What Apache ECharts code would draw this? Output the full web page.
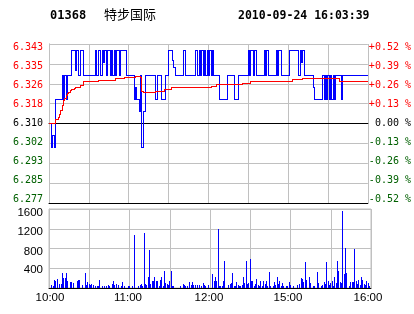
<!DOCTYPE html>
<html><head><meta charset="utf-8">
<script src="https://cdn.jsdelivr.net/npm/echarts@6/dist/echarts.min.js"></script>
<style>html,body{margin:0;padding:0;background:#fff}#c{width:414px;height:314px}</style>
</head><body><div id="c"></div>
<script>
const stockCode = '01368';
const stockName = '特步国际';
const stamp = '2010-09-24 16:03:39';
const prevClose = 6.31;
const timeLabels = ['10:00', '11:00', '12:00', '15:00', '16:00'];
const priceLabels = ['6.277', '6.285', '6.293', '6.302', '6.310', '6.318', '6.326', '6.335', '6.343'];
const pctLabels = ['-0.52 %', '-0.39 %', '-0.26 %', '-0.13 %', ' 0.00 %', '+0.13 %', '+0.26 %', '+0.39 %', '+0.52 %'];
const volLabels = ['', '400', '800', '1200', '1600'];

// price per minute (0 = 10:00 ... 240 = 16:00)
const price = [
 6.31, 6.31, 6.30, 6.305, 6.30, 6.32, 6.32, 6.32, 6.32, 6.32,
 6.33, 6.32, 6.33, 6.32, 6.33, 6.33, 6.33, 6.34, 6.34, 6.34,
 6.332, 6.34, 6.33, 6.33, 6.34, 6.34, 6.33, 6.33, 6.33, 6.33,
 6.33, 6.33, 6.33, 6.33, 6.33, 6.34, 6.33, 6.34, 6.34, 6.33,
 6.34, 6.335, 6.34, 6.33, 6.34, 6.34, 6.33, 6.34, 6.33, 6.34,
 6.33, 6.34, 6.34, 6.33, 6.34, 6.34, 6.34, 6.34, 6.33, 6.33,
 6.33, 6.33, 6.33, 6.33, 6.32, 6.325, 6.32, 6.32, 6.315, 6.33,
 6.30, 6.315, 6.315, 6.33, 6.33, 6.33, 6.33, 6.33, 6.33, 6.33,
 6.32, 6.32, 6.33, 6.33, 6.33, 6.32, 6.32, 6.32, 6.33, 6.33,
 6.34, 6.34, 6.34, 6.336, 6.333, 6.33, 6.33, 6.33, 6.33, 6.33,
 6.33, 6.34, 6.34, 6.33, 6.33, 6.33, 6.33, 6.33, 6.33, 6.33,
 6.34, 6.34, 6.33, 6.34, 6.33, 6.34, 6.33, 6.34, 6.33, 6.34,
 6.33, 6.34, 6.33, 6.34, 6.33, 6.33, 6.33, 6.33, 6.32, 6.32,
 6.32, 6.32, 6.32, 6.32, 6.33, 6.33, 6.33, 6.33, 6.33, 6.33,
 6.32, 6.32, 6.32, 6.33, 6.33, 6.33, 6.33, 6.33, 6.33, 6.33,
 6.34, 6.33, 6.34, 6.34, 6.33, 6.34, 6.33, 6.33, 6.33, 6.33,
 6.33, 6.33, 6.34, 6.33, 6.34, 6.33, 6.33, 6.33, 6.33, 6.33,
 6.33, 6.34, 6.33, 6.34, 6.34, 6.33, 6.33, 6.33, 6.33, 6.33,
 6.33, 6.34, 6.34, 6.34, 6.34, 6.34, 6.34, 6.34, 6.33, 6.34,
 6.335, 6.34, 6.33, 6.33, 6.33, 6.33, 6.33, 6.33, 6.33, 6.325,
 6.32, 6.32, 6.32, 6.32, 6.32, 6.32, 6.33, 6.32, 6.33, 6.32,
 6.33, 6.32, 6.33, 6.32, 6.33, 6.32, 6.33, 6.33, 6.33, 6.33,
 6.32, 6.33, 6.33, 6.33, 6.33, 6.33, 6.33, 6.33, 6.33, 6.33,
 6.33, 6.33, 6.33, 6.33, 6.33, 6.33, 6.33, 6.33, 6.33, 6.33, 6.33
];

// average price per minute
const avgPrice = [
 6.31, 6.31, 6.31, 6.3098, 6.3098, 6.3118, 6.3118, 6.3125, 6.3139, 6.3155,
 6.3173, 6.3194, 6.3205, 6.3214, 6.3222, 6.3228, 6.3235, 6.324, 6.3242, 6.3245,
 6.3249, 6.3249, 6.3249, 6.3249, 6.3256, 6.3256, 6.3273, 6.3273, 6.3273, 6.3273,
 6.3273, 6.3273, 6.3273, 6.3273, 6.3273, 6.3273, 6.3273, 6.3277, 6.3277, 6.3277,
 6.3277, 6.3277, 6.3277, 6.3277, 6.3277, 6.3277, 6.3277, 6.3277, 6.3277, 6.3277,
 6.3287, 6.3287, 6.3287, 6.3287, 6.3287, 6.3287, 6.3287, 6.3291, 6.3291, 6.3291,
 6.3291, 6.3291, 6.3291, 6.3291, 6.3291, 6.3295, 6.3295, 6.3295, 6.3295, 6.3291,
 6.3233, 6.3229, 6.3229, 6.3229, 6.3229, 6.3229, 6.3229, 6.3229, 6.3229, 6.3229,
 6.3233, 6.3233, 6.3233, 6.3233, 6.3233, 6.3233, 6.3233, 6.324, 6.324, 6.324,
 6.324, 6.324, 6.3247, 6.3247, 6.3247, 6.3247, 6.3247, 6.3247, 6.3247, 6.3247,
 6.3247, 6.3247, 6.3247, 6.3247, 6.3247, 6.3247, 6.3247, 6.3247, 6.3247, 6.3247,
 6.3247, 6.3247, 6.3247, 6.3247, 6.3247, 6.3247, 6.3247, 6.3247, 6.3247, 6.3247,
 6.3247, 6.3247, 6.3254, 6.3254, 6.3254, 6.3254, 6.3259, 6.3259, 6.3259, 6.3259,
 6.3259, 6.3259, 6.3259, 6.3259, 6.3259, 6.3259, 6.3259, 6.3259, 6.3259, 6.3259,
 6.3259, 6.3259, 6.3259, 6.3259, 6.3259, 6.3259, 6.3266, 6.3266, 6.3266, 6.3266,
 6.3266, 6.3266, 6.3273, 6.3273, 6.3273, 6.3273, 6.3273, 6.3273, 6.3273, 6.3273,
 6.3273, 6.3273, 6.3273, 6.3273, 6.3273, 6.3273, 6.3273, 6.3273, 6.3273, 6.3273,
 6.3273, 6.3273, 6.3273, 6.3273, 6.3273, 6.3273, 6.3273, 6.3273, 6.3273, 6.3273,
 6.3273, 6.3273, 6.3273, 6.328, 6.328, 6.328, 6.328, 6.328, 6.328, 6.328,
 6.328, 6.3284, 6.3284, 6.3284, 6.3284, 6.3284, 6.3284, 6.3284, 6.3284, 6.3284,
 6.3284, 6.3284, 6.3284, 6.3284, 6.3284, 6.3284, 6.3284, 6.3284, 6.3284, 6.3284,
 6.3284, 6.3284, 6.3284, 6.3284, 6.3284, 6.3284, 6.3284, 6.3284, 6.3284, 6.3273,
 6.3273, 6.3273, 6.3273, 6.3273, 6.3273, 6.3273, 6.3273, 6.3273, 6.3273, 6.3273,
 6.3273, 6.3273, 6.3273, 6.3273, 6.3273, 6.3273, 6.3273, 6.3273, 6.3273, 6.3273, 6.3273
];

// volume per minute
const volume = [
 0, 0, 67, 47, 169, 135, 189, 0, 88, 88,
 310, 209, 209, 310, 135, 0, 128, 128, 108, 0,
 0, 148, 155, 169, 0, 67, 0, 310, 67, 128,
 88, 54, 81, 54, 0, 40, 40, 40, 155, 0,
 40, 40, 0, 47, 67, 40, 0, 81, 148, 67,
 88, 0, 61, 0, 40, 128, 47, 0, 0, 47,
 47, 0, 47, 0, 1080, 0, 0, 47, 67, 88,
 47, 1120, 88, 54, 229, 776, 88, 148, 148, 229,
 135, 135, 47, 169, 229, 47, 337, 101, 88, 67,
 148, 337, 47, 47, 0, 0, 0, 0, 47, 0,
 88, 54, 47, 47, 0, 128, 67, 115, 67, 54,
 0, 54, 54, 0, 47, 101, 54, 47, 0, 67,
 0, 0, 290, 135, 229, 148, 1200, 47, 47, 47,
 148, 540, 0, 0, 67, 88, 108, 310, 47, 47,
 128, 67, 47, 47, 67, 229, 108, 553, 88, 108,
 594, 148, 135, 47, 88, 189, 67, 47, 135, 47,
 148, 88, 148, 47, 330, 47, 0, 47, 128, 67,
 229, 88, 135, 47, 108, 47, 0, 47, 47, 128,
 67, 0, 47, 0, 0, 67, 0, 88, 209, 189,
 128, 520, 169, 0, 229, 108, 0, 47, 47, 0,
 330, 108, 0, 47, 67, 128, 88, 533, 148, 67,
 108, 135, 47, 229, 108, 553, 351, 128, 108, 1566,
 290, 810, 297, 0, 47, 128, 128, 128, 797, 135,
 88, 169, 67, 229, 169, 88, 67, 148, 108, 47, 148
];

const GRAY = '#c0c0c0';
const RED = '#ff0000';
const GREEN = '#006000';
const BLUE = '#0000ff';
const toBp = p => (p / prevClose - 1) * 10000;
const priceData = price.map((p, i) => [i, toBp(p)]);
const avgData = avgPrice.map((p, i) => [i, toBp(p)]);
const volData = volume.map((v, i) => [i, v]);
const sideColor = i => i > 4 ? RED : (i < 4 ? GREEN : '#000');
const monoFont = 'DejaVu Sans Mono';
const sansFont = 'Liberation Sans';

// rich styles nudging the side labels (the original packs them slightly inward)
const sideRich = {};
for (let i = 0; i < 9; i++) {
  const d = 3.7 - 0.875 * (8 - i); // + = down ; index 8 is the top label
  sideRich['p' + i] = {color: sideColor(i), fontFamily: monoFont, fontSize: 10,
    padding: d >= 0 ? [2 * d, 0, 0, 0] : [0, 0, -2 * d, 0]};
}
const volShift = [0, 1.8, 3, 3.5, 4.3];
const volRich = {};
volShift.forEach((d, i) => { volRich['v' + i] = {color: '#000', fontFamily: sansFont, fontSize: 11.5, padding: [2 * d, 0, 0, 0]}; });
const timeShift = [-1, 1.5, 1, 2.5, 3]; // + = left
const timeRich = {};
timeShift.forEach((d, i) => { timeRich['t' + i] = {color: '#000', fontFamily: sansFont, fontSize: 11.5,
  padding: d >= 0 ? [0, 2 * d, 0, 0] : [0, 0, 0, -2 * d]}; });

const snap = v => Math.round(v - 0.5) + 0.5;
function stepRender(color) {
  return function (params, api) {
    const i = params.dataIndexInside;
    if (i >= params.dataInsideLength - 1) return null;
    const p0 = api.coord([api.value(0, i), api.value(1, i)]);
    const p1 = api.coord([api.value(0, i + 1), api.value(1, i + 1)]);
    const x0 = snap(p0[0]), x1 = snap(p1[0]), y0 = snap(p0[1]), y1 = snap(p1[1]);
    const st = {stroke: color, lineWidth: 1, fill: null};
    const kids = [{type: 'line', shape: {x1: x0 - 0.5, y1: y0, x2: x1 + 0.5, y2: y0}, style: st}];
    if (y1 !== y0) kids.push({type: 'line', shape: {x1: x1, y1: y0, x2: x1, y2: y1}, style: st});
    return {type: 'group', children: kids};
  };
}
function barRender(params, api) {
  const v = api.value(1);
  if (!v) return null;
  const top = api.coord([api.value(0), v]);
  const base = api.coord([api.value(0), 0]);
  const x = Math.floor(top[0]);
  const y0 = Math.round(top[1]), y1 = Math.round(base[1]);
  return {type: 'rect', shape: {x: x, y: y0, width: 1, height: y1 - y0}, style: {fill: BLUE}};
}

const chart = echarts.init(document.getElementById('c'), null, {renderer: 'canvas'});
chart.setOption({
  animation: false,
  backgroundColor: '#fff',
  graphic: [
    {type: 'text', left: 50, top: 10, style: {text: stockCode, font: 'bold 12px "DejaVu Sans Mono"', fill: '#000'}},
    {type: 'text', left: 104, top: 8, style: {text: stockName, font: '13px "Noto Sans CJK SC"', fill: '#000'}},
    {type: 'text', left: 238, top: 10, style: {text: stamp, font: 'bold 11.5px "DejaVu Sans Mono"', fill: '#000'}}
  ],
  grid: [
    {left: 49, top: 44, width: 322, height: 159, show: false},
    {left: 49, top: 209, width: 322, height: 79, show: true, borderColor: GRAY, borderWidth: 1, backgroundColor: 'transparent'}
  ],
  xAxis: [
    {type: 'value', gridIndex: 0, min: 0, max: 240, interval: 30, position: 'bottom',
     axisLine: {show: true, onZero: false, lineStyle: {color: '#000', width: 1}},
     axisTick: {show: false}, axisLabel: {show: false},
     splitLine: {show: true, lineStyle: {color: GRAY, width: 1}}},
    {type: 'value', gridIndex: 1, min: 0, max: 240, interval: 30,
     axisLine: {show: true, onZero: false, lineStyle: {color: '#000', width: 1}},
     axisTick: {show: false},
     axisLabel: {show: true, margin: 4, color: '#000', fontFamily: sansFont, fontSize: 11.5,
       showMinLabel: true, showMaxLabel: true, hideOverlap: false, rich: timeRich,
       formatter: v => (v % 60 === 0 ? '{t' + (v / 60) + '|' + timeLabels[v / 60] + '}' : '')},
     splitLine: {show: true, lineStyle: {color: GRAY, width: 1}}},
    {type: 'value', gridIndex: 0, min: 0, max: 240, interval: 30, position: 'bottom',
     axisLine: {show: true, onZero: true, onZeroAxisIndex: 0, lineStyle: {color: '#000', width: 1}},
     axisTick: {show: false}, axisLabel: {show: false}, splitLine: {show: false}}
  ],
  yAxis: [
    {type: 'value', gridIndex: 0, position: 'left', min: -52, max: 52, interval: 13,
     axisLine: {show: true, lineStyle: {color: GRAY}}, axisTick: {show: false},
     splitLine: {show: true, lineStyle: {color: GRAY, width: 1}},
     axisLabel: {margin: 6, fontFamily: monoFont, fontSize: 10, rich: sideRich,
       formatter: v => { const i = Math.round(v / 13) + 4; return '{p' + i + '|' + priceLabels[i] + '}'; }}},
    {type: 'value', gridIndex: 0, position: 'right', min: -52, max: 52, interval: 13,
     axisLine: {show: true, lineStyle: {color: GRAY}}, axisTick: {show: false},
     splitLine: {show: false},
     axisLabel: {margin: 1, fontFamily: monoFont, fontSize: 10, rich: sideRich,
       formatter: v => { const i = Math.round(v / 13) + 4; return '{p' + i + '|' + pctLabels[i] + '}'; }}},
    {type: 'value', gridIndex: 1, position: 'left', min: 0, max: 1600, interval: 400,
     axisLine: {show: true, lineStyle: {color: GRAY}}, axisTick: {show: false},
     splitLine: {show: true, lineStyle: {color: GRAY, width: 1}},
     axisLabel: {margin: 6, color: '#000', fontFamily: sansFont, fontSize: 11.5, rich: volRich,
       formatter: v => { const i = Math.round(v / 400); return volLabels[i] ? '{v' + i + '|' + volLabels[i] + '}' : ''; }}}
  ],
  series: [
    {type: 'custom', name: 'price', xAxisIndex: 0, yAxisIndex: 0, data: priceData,
     encode: {x: 0, y: 1}, renderItem: stepRender(BLUE), clip: true, z: 3},
    {type: 'custom', name: 'avg', xAxisIndex: 0, yAxisIndex: 0, data: avgData,
     encode: {x: 0, y: 1}, renderItem: stepRender(RED), clip: true, z: 4},
    {type: 'custom', name: 'volume', xAxisIndex: 1, yAxisIndex: 2, data: volData,
     encode: {x: 0, y: 1}, renderItem: barRender, clip: true, z: 3}
  ]
});
</script>
</body></html>
